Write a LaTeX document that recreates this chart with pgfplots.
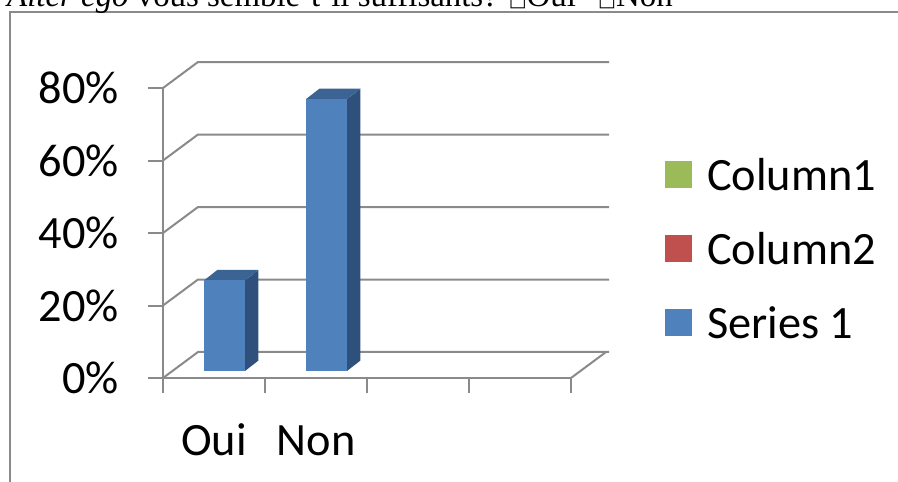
\documentclass[border=0pt]{standalone}
\usepackage{pgfplots}
\pgfplotsset{compat=1.18}
\usepackage{fontspec}
\setmainfont{Carlito}
\newfontfamily\serif{Liberation Serif}
\newfontfamily\symb{DejaVu Sans}

\definecolor{gridgray}{HTML}{8A8A8A}
\definecolor{barfront}{HTML}{4F81BD}
\definecolor{bartop}{HTML}{3B6494}
\definecolor{barside}{HTML}{2F507C}
\definecolor{colone}{HTML}{9BBB59}
\definecolor{coltwo}{HTML}{C0504D}

% one pseudo-3D column: #1 = category centre, #2 = value (percent)
\newcommand\columnthreed[2]{%
  \addplot[fill=barside, draw=none, forget plot] table[row sep=\\,
    x expr=#1+\thisrow{dx}, y expr=#2*\thisrow{h}+\thisrow{dy}]
    {dx h dy\\ 0.304 0 1.93\\ 0.304 1 1.93\\ 0.436 1 4.83\\ 0.436 0 4.83\\};
  \addplot[fill=bartop, draw=none, forget plot] table[row sep=\\,
    x expr=#1+\thisrow{dx}, y expr=#2*\thisrow{h}+\thisrow{dy}]
    {dx h dy\\ -0.098 1 1.93\\ 0.304 1 1.93\\ 0.436 1 4.83\\ 0.034 1 4.83\\};
  \addplot[fill=barfront, draw=none, forget plot] table[row sep=\\,
    x expr=#1+\thisrow{dx}, y expr=#2*\thisrow{h}+\thisrow{dy}]
    {dx h dy\\ -0.098 0 1.93\\ 0.304 0 1.93\\ 0.304 1 1.93\\ -0.098 1 1.93\\};
}

\begin{document}
\begin{tikzpicture}
\useasboundingbox (0,0) rectangle (898bp,482bp);
\clip (0,0) rectangle (898bp,482bp);

% frame of the chart area
\draw[gridgray, line width=1.5bp] (10bp,0) -- (10bp,470bp) -- (900bp,470bp);

% question line above the chart
\node[anchor=base west, inner sep=0pt, font=\serif\fontsize{33}{36}\selectfont]
  at (7bp,475.5bp) {\textit{Alter ego} vous semble-t-il suffisants? {\symb\fontsize{19}{19}\selectfont □}Oui};
\node[anchor=base west, inner sep=0pt, font=\serif\fontsize{33}{36}\selectfont]
  at (598bp,475.5bp) {{\symb\fontsize{19}{19}\selectfont □}Non};

\begin{axis}[
  at={(163bp,104bp)}, anchor=south west,
  scale only axis, width=408bp, height=290bp,
  xmin=0, xmax=4, ymin=0, ymax=80, clip=false,
  axis x line*=bottom, axis y line*=left,
  axis line style={gridgray, line width=2bp, -},
  xtick={0,1,2,3,4}, xticklabels={},
  extra x ticks={0.5,1.5}, extra x tick labels={Oui,Non},
  extra x tick style={major tick length=0pt, xticklabel style={anchor=base, yshift=-77bp}},
  ytick={0,20,40,60,80}, yticklabels={0\%,20\%,40\%,60\%,80\%},
  tick align=outside, major tick length=15bp,
  tick style={gridgray, line width=2bp},
  tick label style={font=\fontsize{46.5}{50}\selectfont, inner sep=0pt},
  yticklabel style={xshift=-29bp},
  /pgf/number format/assume math mode=true,
  legend style={draw=none, fill=none, at={(1.2304,0.7586)}, anchor=north west,
    inner sep=0pt, outer sep=0pt, row sep=42bp, column sep=15bp,
    font=\fontsize{46.5}{50}\selectfont,
    nodes={inner sep=0pt, text height=32bp, text depth=0pt}},
  legend image code/.code={\fill[#1] (0bp,-13.5bp) rectangle (27bp,13.5bp);},
  legend cell align=left,
]
% back wall gridlines and floor edges
\pgfplotsinvokeforeach{0,20,40,60,80}{
  \draw[gridgray, line width=2bp] (axis cs:0,#1) -- ++(35bp,26bp) -- ++(411bp,0bp);
}
\draw[gridgray, line width=2bp] (axis cs:4,0) -- ++(35bp,26bp);

\addlegendimage{fill=colone, draw=none}
\addlegendentry{Column1}
\addlegendimage{fill=coltwo, draw=none}
\addlegendentry{Column2}
\addlegendimage{fill=barfront, draw=none}
\addlegendentry{Series 1}

% Series 1: Oui 25 %, Non 75 %
\columnthreed{0.5}{25}
\columnthreed{1.5}{75}
\end{axis}
\end{tikzpicture}
\end{document}
